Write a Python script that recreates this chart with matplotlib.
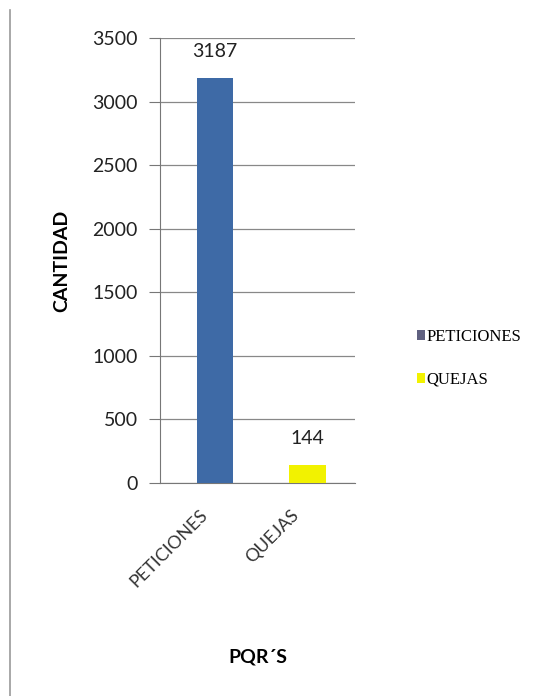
import matplotlib.pyplot as plt
import matplotlib.transforms as mtransforms
from matplotlib.patches import Patch
from matplotlib.lines import Line2D

categorias = ['PETICIONES', 'QUEJAS']
cantidades = [3187, 144]
colores = ['#3e6aa6', '#f2f200']
colores_leyenda = ['#5f6080', '#f2f200']
ticks_y = [0, 500, 1000, 1500, 2000, 2500, 3000, 3500]

fig = plt.figure(figsize=(5.59, 6.96), dpi=100)
ax = fig.add_axes([0.286, 0.306, 0.349, 0.639])

x = range(len(categorias))
barras = ax.bar(x, cantidades, width=0.4, color=colores, zorder=3)

for b, v in zip(barras, cantidades):
    ax.annotate(str(v), (b.get_x() + b.get_width() / 2, v), xytext=(0, 13),
                textcoords='offset points', ha='center', va='bottom',
                fontsize=14, family='Lato', color='#222222')

for s in ['top', 'right']:
    ax.spines[s].set_visible(False)
ax.spines['left'].set_color('#777777')
ax.spines['bottom'].set_color('#777777')

ax.set_xlim(-0.6, 1.52)
ax.set_ylim(0, 3500)
ax.set_yticks(ticks_y)
ax.set_yticklabels([str(t) for t in ticks_y], fontsize=14, family='Lato', color='#222222')
ax.set_xticks(list(x))
ax.set_xticklabels(categorias, rotation=45, ha='right', rotation_mode='anchor',
                   fontsize=13, family='Lato', color='#333333')
ax.tick_params(axis='x', length=0, pad=17)
ax.tick_params(axis='y', length=8, width=0.8, color='#777777', pad=8)

# desplaza las etiquetas del eje x hacia la izquierda
desplazamiento = mtransforms.ScaledTranslation(-16 / 100, 0, fig.dpi_scale_trans)
for lbl in ax.get_xticklabels():
    lbl.set_transform(lbl.get_transform() + desplazamiento)

ax.grid(axis='y', color='#888888', linewidth=0.9, zorder=0)

ax.set_ylabel('CANTIDAD', fontsize=14, fontweight='bold', family='Lato', labelpad=16)
ax.set_xlabel('PQR´S', fontsize=14, fontweight='bold', family='Lato', labelpad=42)

handles = [Patch(facecolor=c, edgecolor='none') for c in colores_leyenda]
fig.legend(handles, categorias, loc='center left', bbox_to_anchor=(0.72, 0.485),
           frameon=False, handlelength=0.45, handleheight=0.5, handletextpad=0.1,
           labelspacing=1.6, prop={'family': 'Liberation Serif', 'size': 12})

fig.add_artist(Line2D([0.018, 0.018], [0.0, 0.985], color='#999999', linewidth=1.2))

fig.savefig('out.png', dpi=100)
